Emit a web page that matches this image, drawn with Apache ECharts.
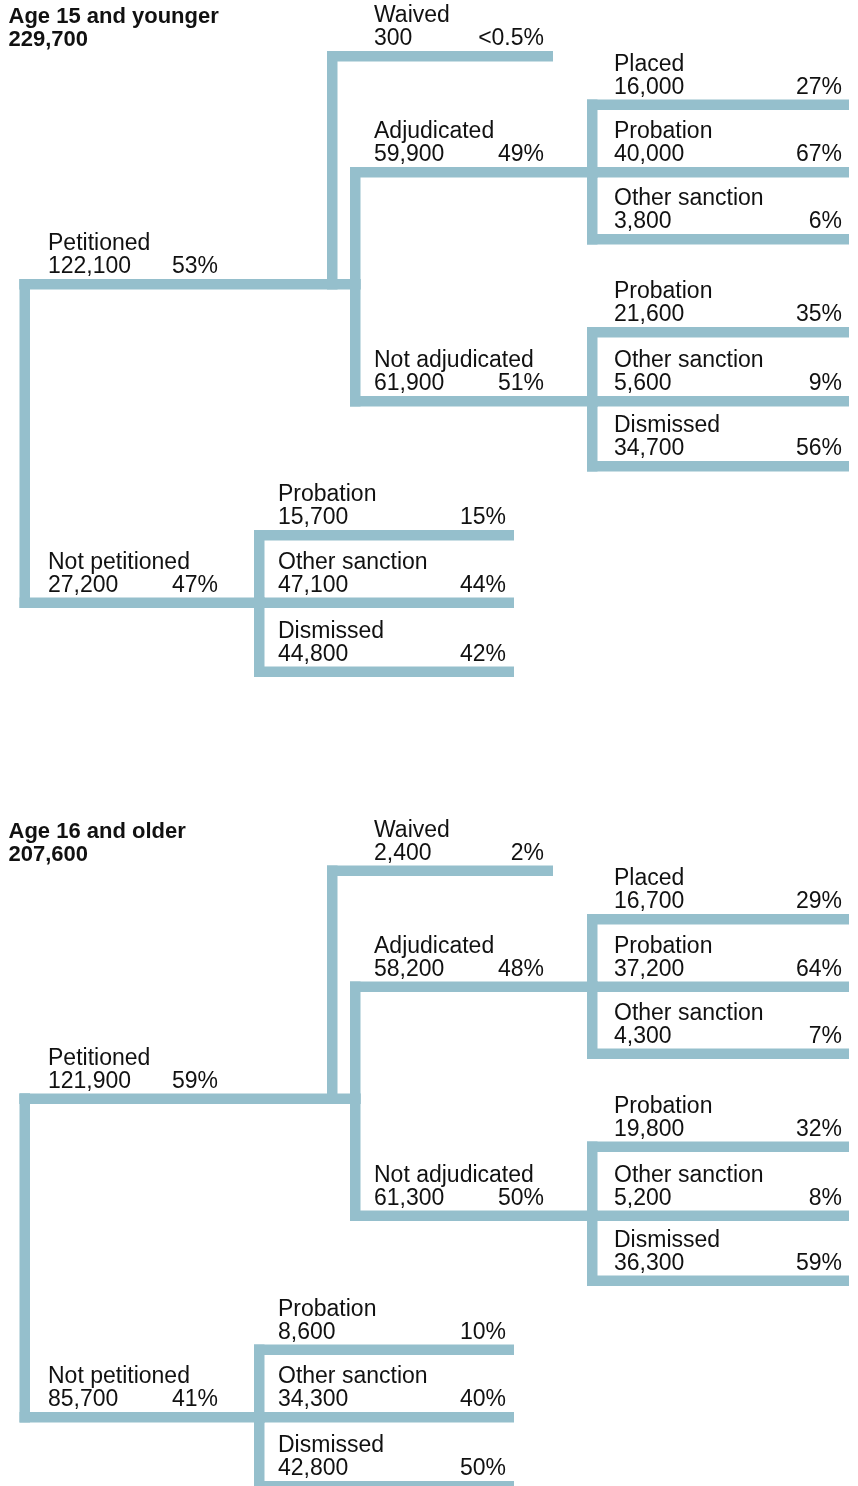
<!DOCTYPE html>
<html>
<head>
<meta charset="utf-8">
<script src="https://cdn.jsdelivr.net/npm/echarts@6/dist/echarts.min.js"></script>
<style>
  html, body { margin: 0; padding: 0; background: #ffffff; }
  #chart { width: 858px; height: 1486px; }
</style>
</head>
<body>
<div id="chart"></div>
<script>
// ---------------- DATA ----------------
const panelTitles = ['Age 15 and younger', 'Age 16 and older'];
const panelTotals = [229700, 207600];

// node order: 0 root, 1 Petitioned, 2 Not petitioned, 3 Waived, 4 Adjudicated,
// 5 Not adjudicated, 6-8 adjudicated outcomes, 9-11 not-adjudicated outcomes,
// 12-14 not-petitioned outcomes
const nodeNames = ['', 'Petitioned', 'Not petitioned', 'Waived', 'Adjudicated', 'Not adjudicated',
  'Placed', 'Probation', 'Other sanction',
  'Probation', 'Other sanction', 'Dismissed',
  'Probation', 'Other sanction', 'Dismissed'];
const nodeParents = [-1, 0, 0, 1, 1, 1, 4, 4, 4, 5, 5, 5, 2, 2, 2];

const countsYoung = [229700, 122100, 27200, 300, 59900, 61900, 16000, 40000, 3800, 21600, 5600, 34700, 15700, 47100, 44800];
const pctYoung    = [null, 53, 47, 0.25, 49, 51, 27, 67, 6, 35, 9, 56, 15, 44, 42];

const countsOld = [207600, 121900, 85700, 2400, 58200, 61300, 16700, 37200, 4300, 19800, 5200, 36300, 8600, 34300, 42800];
const pctOld    = [null, 59, 41, 2, 48, 50, 29, 64, 7, 32, 8, 59, 10, 40, 50];

const panelCounts = [countsYoung, countsOld];
const panelPcts = [pctYoung, pctOld];

// ---------------- LAYOUT (diagram geometry, in axis units) ----------------
const panelOffsets = [0, 814.5];
const layoutX0 = [null, 19.5, 19.5, 327, 350, 350, 587, 587, 587, 587, 587, 587, 254, 254, 254];
const layoutY = [52, 279, 597.5, 51, 167, 396, 99.5, 167, 234, 327, 396, 461, 530, 597.5, 666.5];
const layoutXEnd = [null, null, null, 553, null, null, 849, 849, 849, 849, 849, 849, 514, 514, 514];
const layoutLabelX = [8.5, 48, 48, 374, 374, 374, 614, 614, 614, 614, 614, 614, 278, 278, 278];
const layoutPctRight = [null, 218, 218, 544, 544, 544, 842, 842, 842, 842, 842, 842, 506, 506, 506];
const LINE_W = 10.5;
const LINE_COLOR = '#95bfcc';
const TEXT_COLOR = '#111111';
const FONT_FAMILY = '"Liberation Sans", Arial, Helvetica, sans-serif';
const FONT_SIZE = 23;
const TITLE_FONT_SIZE = 22;

function fmtCount(v) { return v.toLocaleString('en-US'); }
function fmtPct(v) { return v < 0.5 ? '<0.5%' : Math.round(v) + '%'; }

function childrenOf(p) {
  const r = [];
  nodeParents.forEach((q, i) => { if (q === p) r.push(i); });
  return r;
}
function rightEnd(i) {
  if (layoutXEnd[i] != null) return layoutXEnd[i];
  const kids = childrenOf(i);
  return Math.max.apply(null, kids.map(k => layoutX0[k])) + LINE_W;
}

function makeSeries(panel) {
  const off = panelOffsets[panel];
  const counts = panelCounts[panel];
  const pcts = panelPcts[panel];
  const data = nodeNames.map((n, i) => ({ value: [i, counts[i]] }));
  return {
    type: 'custom',
    coordinateSystem: 'cartesian2d',
    silent: true,
    data: data,
    renderItem: function (params, api) {
      const i = api.value(0);
      const children = [];
      const baseY = layoutY[i] + off;
      const toPx = (x, y) => api.coord([x, y]);
      const font = (bold) => (bold ? 'bold ' + TITLE_FONT_SIZE : FONT_SIZE) + 'px ' + FONT_FAMILY;
      const asc = 6;

      if (i === 0) {
        const p1 = toPx(layoutLabelX[0], baseY - 29);
        const p2 = toPx(layoutLabelX[0], baseY - 6);
        children.push({ type: 'text', x: p1[0], y: p1[1] - asc,
          style: { text: panelTitles[panel], font: font(true), fill: TEXT_COLOR, align: 'left', verticalAlign: 'middle' } });
        children.push({ type: 'text', x: p2[0], y: p2[1] - asc,
          style: { text: fmtCount(panelTotals[panel]), font: font(true), fill: TEXT_COLOR, align: 'left', verticalAlign: 'middle' } });
        return { type: 'group', children: children };
      }

      const x0 = layoutX0[i];
      const x1 = rightEnd(i);
      // horizontal bar of this branch
      const a = toPx(x0, baseY), b = toPx(x1, baseY + LINE_W);
      children.push({ type: 'rect', shape: { x: a[0], y: a[1], width: b[0] - a[0], height: b[1] - a[1] },
        style: { fill: LINE_COLOR } });
      // vertical connector to parent (or siblings for top level)
      const p = nodeParents[i];
      let anchorY;
      if (p > 0) {
        anchorY = layoutY[p] + off;
      } else {
        const sibs = childrenOf(p);
        anchorY = layoutY[sibs[0]] + off;
      }
      const vy0 = Math.min(anchorY, baseY), vy1 = Math.max(anchorY, baseY) + LINE_W;
      const c = toPx(x0, vy0), d = toPx(x0 + LINE_W, vy1);
      children.push({ type: 'rect', shape: { x: c[0], y: c[1], width: d[0] - c[0], height: d[1] - c[1] },
        style: { fill: LINE_COLOR } });
      // labels
      const nl = toPx(layoutLabelX[i], baseY - 29);
      const vl = toPx(layoutLabelX[i], baseY - 6);
      const pr = toPx(layoutPctRight[i], baseY - 6);
      children.push({ type: 'text', x: nl[0], y: nl[1] - asc,
        style: { text: nodeNames[i], font: font(false), fill: TEXT_COLOR, align: 'left', verticalAlign: 'middle' } });
      children.push({ type: 'text', x: vl[0], y: vl[1] - asc,
        style: { text: fmtCount(api.value(1)), font: font(false), fill: TEXT_COLOR, align: 'left', verticalAlign: 'middle' } });
      children.push({ type: 'text', x: pr[0], y: pr[1] - asc,
        style: { text: fmtPct(pcts[i]), font: font(false), fill: TEXT_COLOR, align: 'right', verticalAlign: 'middle' } });
      return { type: 'group', children: children };
    }
  };
}

const chart = echarts.init(document.getElementById('chart'), null, { renderer: 'canvas' });
chart.setOption({
  animation: false,
  backgroundColor: '#ffffff',
  grid: { left: 0, right: 0, top: 0, bottom: 0 },
  xAxis: { type: 'value', min: 0, max: 858, show: false },
  yAxis: { type: 'value', min: 0, max: 1486, inverse: true, show: false },
  series: [makeSeries(0), makeSeries(1)]
});
</script>
</body>
</html>
